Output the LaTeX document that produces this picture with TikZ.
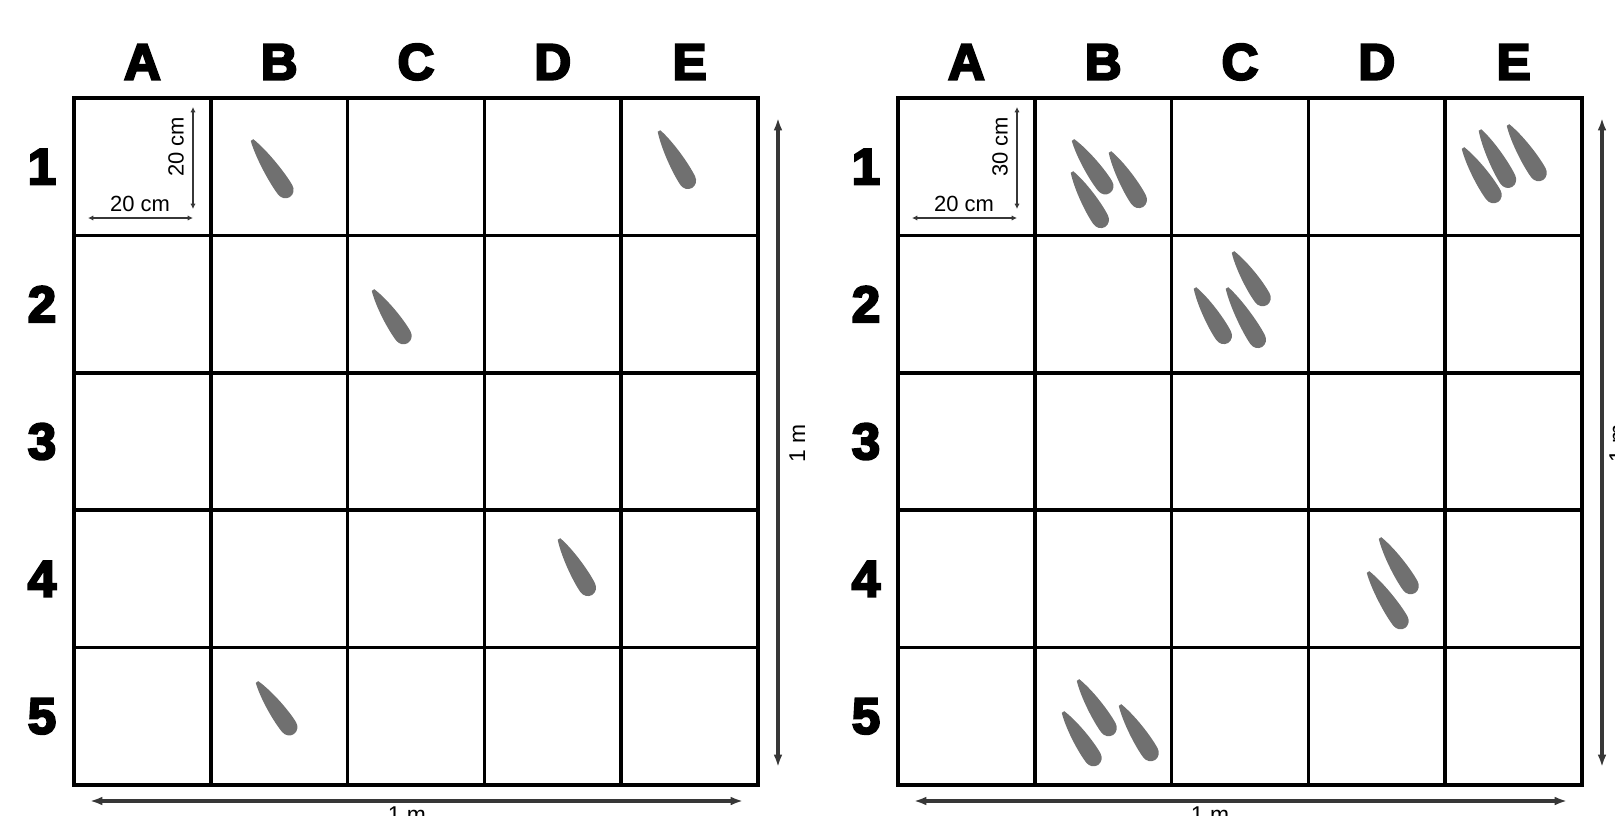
\documentclass[tikz,border=0pt]{standalone}
\usepackage{fontspec}
\setmainfont{Liberation Sans}
\newfontfamily\gridfont{Liberation Sans Bold}
\usetikzlibrary{arrows.meta}
\definecolor{seedgray}{RGB}{112,112,112}
\definecolor{dimgray}{RGB}{55,55,55}
% heavier strokes for the grid labels
\newcommand{\heavy}[1]{\special{pdf:literal direct 2 Tr 1.3 w}#1\special{pdf:literal direct 0 Tr}}

\tikzset{
  outer/.style={line width=2.8pt},
  inner/.style={line width=2pt},
  dimline/.style={dimgray, line width=2pt, {Latex[length=7pt,width=5pt]}-{Latex[length=7pt,width=5pt]}},
  smalldim/.style={dimgray, line width=0.6pt, {Latex[length=3pt,width=3pt]}-{Latex[length=3pt,width=3pt]}},
  headlab/.style={font=\gridfont\fontsize{29}{29}\selectfont},
  cmlab/.style={font=\fontsize{12.5}{12.5}\selectfont, inner sep=0pt},
  mlab/.style={font=\fontsize{13}{13}\selectfont, inner sep=0pt},
}

% seed from tip (#1,#2) to round end (#3,#4), in pixels
\newcommand{\seed}[4]{%
  \pgfmathsetmacro\seedang{atan2(-(#4-#2),#3-#1)}%
  \pgfmathsetmacro\seedlen{veclen(#3-#1,#4-#2)}%
  \begin{scope}[shift={(#1,#2)},rotate=\seedang]
    \fill[seedgray] (0,1.5) .. controls (0.25*\seedlen,7) and (\seedlen-22,9.5) .. (\seedlen-8.5,8.5)
      .. controls (\seedlen-3.8,8.2) and (\seedlen,4.5) .. (\seedlen,0)
      .. controls (\seedlen,-4.5) and (\seedlen-3.8,-8.2) .. (\seedlen-8.5,-8.5)
      .. controls (\seedlen-22,-9.5) and (0.25*\seedlen,-7) .. (0,-1.5) -- cycle;
  \end{scope}}

\begin{document}
\begin{tikzpicture}[x=0.02cm,y=-0.02cm]
    \useasboundingbox (0,0) rectangle (1615,815);
    % two plots, same grid
    \foreach \ox/\p/\bx/\vx/\vt in {74/L/407/789/20, 898/R/1210/1609/30}{
        \draw[inner] \foreach \k in {1,...,4} {(\ox+136.8*\k,98) -- (\ox+136.8*\k,785) (\ox,98+137.4*\k) -- (\ox+684,98+137.4*\k)};
        \draw[outer] (\ox,98) rectangle (\ox+684,785);
        \foreach \c [count=\i] in {A,B,C,D,E}
            \node[headlab] (col\c\p) at (\ox+136.8*\i-68.4,62) {\heavy{\c}};
        \foreach \r in {1,...,5}
            \node[headlab] (row\r\p) at (\ox-32,98+137.4*\r-68.7) {\heavy{\r}};
        % 1 m
        \coordinate (hl\p) at (\ox+16,801);
        \coordinate (hr\p) at (\ox+669,801);
        \coordinate (vt\p) at (\ox+704,118);
        \coordinate (vb\p) at (\ox+704,767);
        \draw[dimline] (hl\p) -- (hr\p);
        \draw[dimline] (vt\p) -- (vb\p);
        \node[mlab,anchor=north] (mh\p) at (\bx,806) {1 m};
        \node[mlab,anchor=north,rotate=90] (mv\p) at (\vx,443) {1 m};
        % 20 cm
        \coordinate (sl\p) at (\ox+14,218);
        \coordinate (sc\p) at (\ox+119,218);
        \coordinate (st\p) at (\ox+119,107);
        \coordinate (sb\p) at (\ox+119,209);
        \draw[smalldim] (sl\p) -- (sc\p);
        \draw[smalldim] (st\p) -- (sb\p);
        \node[cmlab] (ch\p) at (\ox+66,204) {20 cm};
        \node[cmlab,rotate=90] (cv\p) at (\ox+102,147) {\vt\ cm};
    }
    % seeds left
    \foreach \a/\b/\c/\d in {252/140/290/197, 659/131/692/188, 373/290/408/343, 559/539/592/595, 257/682/294/734}
        {\seed{\a}{\b}{\c}{\d}}
    % seeds right
    \foreach \a/\b/\c/\d in {1073/140/1110/193, 1110/152/1143/207, 1072/172/1105/227,
        1463/148/1498/202, 1480/130/1512/187, 1508/125/1543/180,
        1233/252/1267/305, 1195/288/1228/343, 1227/288/1262/347,
        1380/538/1415/593, 1368/572/1405/628,
        1078/680/1113/735, 1063/712/1098/765, 1120/705/1155/760}
        {\seed{\a}{\b}{\c}{\d}}
\end{tikzpicture}
\end{document}
